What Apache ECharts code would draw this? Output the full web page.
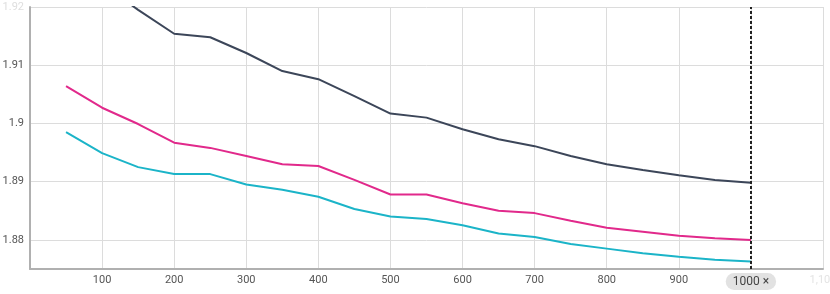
<!DOCTYPE html>
<html>
<head>
<meta charset="utf-8">
<script src="https://cdn.jsdelivr.net/npm/echarts@6/dist/echarts.min.js"></script>
<style>
  html, body { margin: 0; padding: 0; background: #fff; }
  #chart { width: 830px; height: 294px; }
</style>
</head>
<body>
<div id="chart"></div>
<script>
// x positions (steps)
var steps = [50, 100, 150, 200, 250, 300, 350, 400, 450, 500, 550, 600, 650, 700, 750, 800, 850, 900, 950, 1000];

// series values
var darkValues = [1.9290, 1.9240, 1.9195, 1.9154, 1.9148, 1.9121, 1.9090, 1.9076, 1.9047, 1.9017,
                  1.9010, 1.8990, 1.8973, 1.8961, 1.8944, 1.8930, 1.8920, 1.8911, 1.8903, 1.8898];
var pinkValues = [1.9064, 1.9027, 1.8999, 1.8967, 1.8958, 1.8944, 1.8930, 1.8927, 1.8903, 1.8878,
                  1.8878, 1.8863, 1.8850, 1.8846, 1.8833, 1.8821, 1.8814, 1.8807, 1.8803, 1.8800];
var cyanValues = [1.8985, 1.8949, 1.8925, 1.8913, 1.8913, 1.8895, 1.8886, 1.8874, 1.8853, 1.8840,
                  1.8836, 1.8825, 1.8811, 1.8805, 1.8793, 1.8785, 1.8777, 1.8771, 1.8766, 1.8763];

// axis ranges / ticks
var xRange = [0, 1100];
var yRange = [1.875, 1.92];
var cursorStep = 1000;

function pairs(vals) {
    return steps.map(function (s, i) { return [s, vals[i]]; });
}

var myChart = echarts.init(document.getElementById('chart'));

myChart.setOption({
    animation: false,
    grid: {
        left: 30,
        right: 7,
        top: 7,
        bottom: 25,
        outerBoundsMode: 'none'
    },
    xAxis: {
        type: 'value',
        min: xRange[0],
        max: xRange[1],
        interval: 100,
        axisLine: {
            lineStyle: { color: '#b0b0b0', width: 2 }
        },
        axisTick: { show: false },
        splitLine: {
            lineStyle: { color: '#dcdcdc', width: 1 }
        },
        axisLabel: {
            showMinLabel: false,
            fontFamily: 'Roboto',
            fontSize: 11,
            margin: 6,
            color: function (v) { return +v === 1100 ? '#e4e4e4' : '#555'; },
            formatter: function (v) {
                if (v === cursorStep) return '';
                if (v === 1100) return '1,100';
                return String(v);
            }
        }
    },
    yAxis: {
        type: 'value',
        min: yRange[0],
        max: yRange[1],
        splitNumber: 5,
        axisLine: {
            show: true,
            lineStyle: { color: '#b0b0b0', width: 2 }
        },
        axisTick: { show: false },
        splitLine: {
            lineStyle: { color: '#dcdcdc', width: 1 }
        },
        axisLabel: {
            showMinLabel: false,
            fontFamily: 'Roboto',
            fontSize: 11,
            margin: 6,
            color: function (v) { return +v >= 1.9195 ? '#dedede' : '#555'; },
            formatter: function (v) { return String(+(+v).toFixed(3)); }
        }
    },
    series: [
        {
            name: 'dark',
            type: 'line',
            data: pairs(darkValues),
            showSymbol: false,
            clip: true,
            lineStyle: { color: '#3c4659', width: 2 },
            itemStyle: { color: '#3c4659' },
            z: 3,
            markLine: {
                symbol: 'none',
                silent: true,
                lineStyle: { color: '#222', type: [3, 2], width: 2 },
                label: {
                    show: true,
                    position: 'start',
                    distance: 4,
                    formatter: '1000 \u00d7',
                    fontFamily: 'Roboto',
                    fontSize: 12,
                    color: '#444',
                    backgroundColor: '#e2e2e2',
                    borderRadius: 9,
                    padding: [3, 7, 2, 7]
                },
                data: [{ xAxis: cursorStep }]
            }
        },
        {
            name: 'pink',
            type: 'line',
            data: pairs(pinkValues),
            showSymbol: false,
            lineStyle: { color: '#e1298b', width: 2 },
            itemStyle: { color: '#e1298b' },
            z: 2
        },
        {
            name: 'cyan',
            type: 'line',
            data: pairs(cyanValues),
            showSymbol: false,
            lineStyle: { color: '#1bb4c8', width: 2 },
            itemStyle: { color: '#1bb4c8' },
            z: 1
        }
    ]
});
</script>
</body>
</html>
